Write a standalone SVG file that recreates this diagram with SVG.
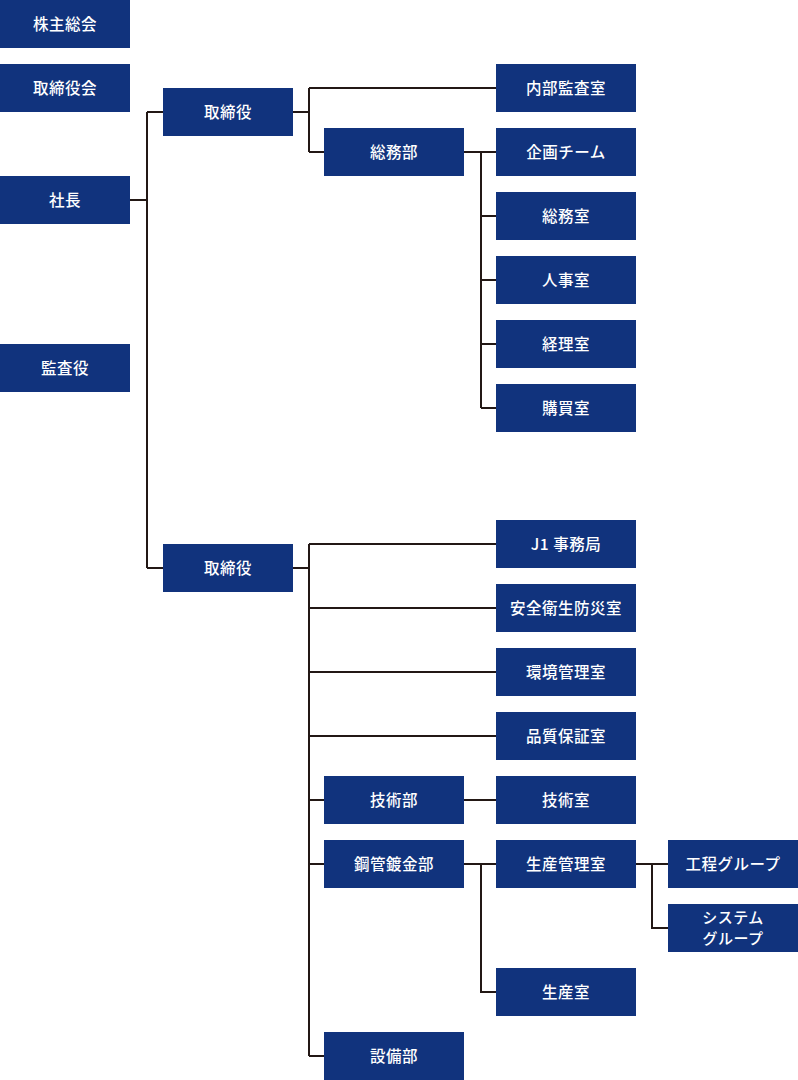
<svg xmlns="http://www.w3.org/2000/svg" width="798" height="1080" viewBox="0 0 798 1080">
<style>
.n rect{fill:#11337d}
.n text{fill:#fff;font-family:"Noto Sans CJK JP","Noto Sans",sans-serif;font-size:15.5px;font-weight:500;text-anchor:middle;letter-spacing:0.5px}
.n text.s{font-size:15px}
.c path{fill:none;stroke:#231815;stroke-width:2}
</style>
<rect width="798" height="1080" fill="#fff"/>
<g class="c" id="connectors">
<path d="M130 200H147M147 112V568M147 112H163M147 568H163"/>
<path d="M293 112H309M309 88V152M309 88H496M309 152H324"/>
<path d="M464 152H481M481 152V408M481 152H496M481 216H496M481 280H496M481 344H496M481 408H496"/>
<path d="M293 568H309M309 544V1056M309 544H496M309 608H496M309 672H496M309 736H496M309 800H324M309 864H324M309 1056H324"/>
<path d="M464 800H496"/>
<path d="M464 864H496M481 864V992H496"/>
<path d="M636 864H668M652 864V928H668"/>
</g>
<g class="n" id="n-kabunushi"><rect x="0" y="0" width="130" height="48"/><text x="65" y="29.5">株主総会</text></g>
<g class="n" id="n-torishimariyakukai"><rect x="0" y="64" width="130" height="48"/><text x="65" y="93.5">取締役会</text></g>
<g class="n" id="n-shacho"><rect x="0" y="176" width="130" height="48"/><text x="65" y="205.5">社長</text></g>
<g class="n" id="n-kansayaku"><rect x="0" y="344" width="130" height="48"/><text x="65" y="373.5">監査役</text></g>
<g class="n" id="n-torishimariyaku1"><rect x="163" y="88" width="130" height="48"/><text x="228" y="117.5">取締役</text></g>
<g class="n" id="n-torishimariyaku2"><rect x="163" y="544" width="130" height="48"/><text x="228" y="573.5">取締役</text></g>
<g class="n" id="n-somubu"><rect x="324" y="128" width="140" height="48"/><text x="394" y="157.5">総務部</text></g>
<g class="n" id="n-gijutsubu"><rect x="324" y="776" width="140" height="48"/><text x="394" y="805.5">技術部</text></g>
<g class="n" id="n-kokanmekkibu"><rect x="324" y="840" width="140" height="48"/><text x="394" y="869.5">鋼管鍍金部</text></g>
<g class="n" id="n-setsubibu"><rect x="324" y="1032" width="140" height="48"/><text x="394" y="1061.5">設備部</text></g>
<g class="n" id="n-naibukansa"><rect x="496" y="64" width="140" height="48"/><text x="566" y="93.5">内部監査室</text></g>
<g class="n" id="n-kikaku"><rect x="496" y="128" width="140" height="48"/><text x="566" y="157.5">企画チーム</text></g>
<g class="n" id="n-somushitsu"><rect x="496" y="192" width="140" height="48"/><text x="566" y="221.5">総務室</text></g>
<g class="n" id="n-jinji"><rect x="496" y="256" width="140" height="48"/><text x="566" y="285.5">人事室</text></g>
<g class="n" id="n-keiri"><rect x="496" y="320" width="140" height="48"/><text x="566" y="349.5">経理室</text></g>
<g class="n" id="n-kobai"><rect x="496" y="384" width="140" height="48"/><text x="566" y="413.5">購買室</text></g>
<g class="n" id="n-j1"><rect x="496" y="520" width="140" height="48"/><text x="566" y="549.5">J1 事務局</text></g>
<g class="n" id="n-anzen"><rect x="496" y="584" width="140" height="48"/><text x="566" y="613.5">安全衛生防災室</text></g>
<g class="n" id="n-kankyo"><rect x="496" y="648" width="140" height="48"/><text x="566" y="677.5">環境管理室</text></g>
<g class="n" id="n-hinshitsu"><rect x="496" y="712" width="140" height="48"/><text x="566" y="741.5">品質保証室</text></g>
<g class="n" id="n-gijutsushitsu"><rect x="496" y="776" width="140" height="48"/><text x="566" y="805.5">技術室</text></g>
<g class="n" id="n-seisankanri"><rect x="496" y="840" width="140" height="48"/><text x="566" y="869.5">生産管理室</text></g>
<g class="n" id="n-seisanshitsu"><rect x="496" y="968" width="140" height="48"/><text x="566" y="997.5">生産室</text></g>
<g class="n" id="n-kotei"><rect x="668" y="840" width="130" height="48"/><text x="733" y="869.5">工程グループ</text></g>
<g class="n" id="n-system"><rect x="668" y="904" width="130" height="48"/><text class="s" x="733" y="923">システム</text><text class="s" x="733" y="943.5">グループ</text></g>
</svg>
